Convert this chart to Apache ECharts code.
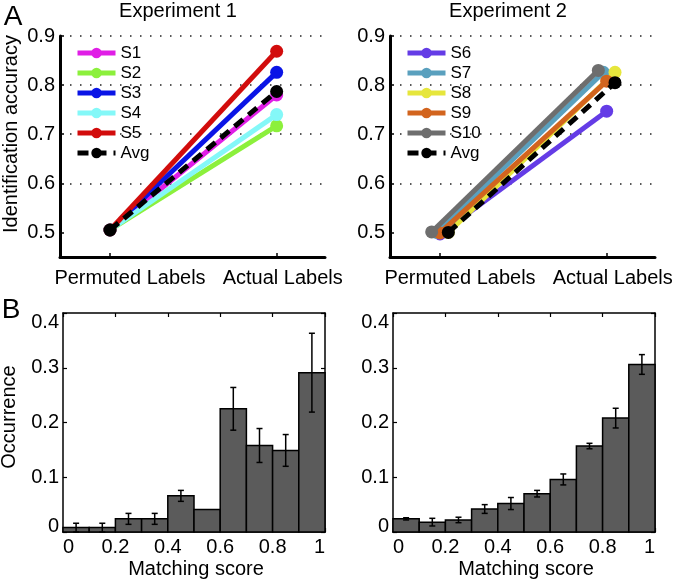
<!DOCTYPE html>
<html><head><meta charset="utf-8">
<script src="https://cdn.jsdelivr.net/npm/echarts@6/dist/echarts.min.js"></script>
<style>html,body{margin:0;padding:0;background:#fff}#c{width:677px;height:584px}</style>
</head><body><div id="c"></div><script>
// ---------- data ----------
const conditions = ['Permuted Labels', 'Actual Labels'];
const conditionX = [1, 2];
const exp1Names = ['S1', 'S2', 'S3', 'S4', 'S5', 'Avg'];
const exp1Permuted = [0.505, 0.505, 0.505, 0.505, 0.505, 0.505];
const exp1Actual = [0.780, 0.717, 0.826, 0.740, 0.869, 0.787];
const exp1Jitter = [0, 0, 0, 0, 0, 0];
const exp2Names = ['S6', 'S7', 'S8', 'S9', 'S10', 'Avg'];
const exp2Permuted = [0.497, 0.500, 0.500, 0.499, 0.501, 0.500];
const exp2Actual = [0.747, 0.826, 0.826, 0.808, 0.830, 0.805];
const exp2Jitter = [0, -0.02, 0.05, 0, -0.05, 0.05];
const accuracyTicks = [0.5, 0.6, 0.7, 0.8, 0.9];
const binEdges = [0, 0.1, 0.2, 0.3, 0.4, 0.5, 0.6, 0.7, 0.8, 0.9, 1.0];
const exp1Occurrence = [0.008, 0.008, 0.024, 0.024, 0.066, 0.041, 0.225, 0.158, 0.149, 0.291];
const exp1Error = [0.008, 0.008, 0.010, 0.010, 0.010, 0, 0.039, 0.031, 0.029, 0.072];
const exp2Occurrence = [0.024, 0.018, 0.022, 0.042, 0.052, 0.070, 0.096, 0.157, 0.208, 0.306];
const exp2Error = [0.002, 0.007, 0.005, 0.008, 0.011, 0.006, 0.010, 0.005, 0.018, 0.018];

// ---------- styles ----------
const exp1Colors = ['#e01ee6', '#8cf03c', '#0a14e6', '#84f8f8', '#d20c0c', '#000000'];
const exp2Colors = ['#643ce6', '#5aa0be', '#e6e63c', '#d2641e', '#6e6e6e', '#000000'];
const FONT = '"Liberation Sans", Arial, Helvetica, sans-serif';

const chart = echarts.init(document.getElementById('c'), null, {renderer: 'canvas'});

function lineSeries(names, perm, act, jit, colors, gi) {
  return names.map((n, i) => ({
    type: 'line', name: n, xAxisIndex: gi, yAxisIndex: gi,
    data: [[conditionX[0] + jit[i], perm[i]], [conditionX[1] + jit[i], act[i]]],
    symbol: 'circle', symbolSize: 13, z: 3 + i,
    lineStyle: {width: 5, color: colors[i], type: n === 'Avg' ? [11, 7] : 'solid'},
    itemStyle: {color: colors[i]},
    emphasis: {disabled: true}
  }));
}
function histData(occ, err) {
  return occ.map((v, i) => [binEdges[i], binEdges[i + 1], v, err[i]]);
}
function barItem(params, api) {
  const p0 = api.coord([api.value(0), 0]);
  const p1 = api.coord([api.value(1), api.value(2)]);
  return {type: 'rect', shape: {x: p0[0], y: p1[1], width: p1[0] - p0[0], height: p0[1] - p1[1]},
    style: {fill: '#5b5b5b', stroke: '#000', lineWidth: 1.5}};
}
function errItem(params, api) {
  const e = api.value(3);
  if (!e) return null;
  const xm = (api.value(0) + api.value(1)) / 2, v = api.value(2);
  const t = api.coord([xm, v + e]), b = api.coord([xm, v - e]);
  const w = 3, st = {stroke: '#000', lineWidth: 1.5};
  return {type: 'group', children: [
    {type: 'line', shape: {x1: t[0], y1: t[1], x2: b[0], y2: b[1]}, style: st},
    {type: 'line', shape: {x1: t[0] - w, y1: t[1], x2: t[0] + w, y2: t[1]}, style: st},
    {type: 'line', shape: {x1: b[0] - w, y1: b[1], x2: b[0] + w, y2: b[1]}, style: st}
  ]};
}

const axisTxt = {color: '#000', fontSize: 20, fontFamily: FONT};

function topX(gi) {
  return {gridIndex: gi, type: 'value', min: 0.7, max: 2.29,
    axisLine: {show: true, onZero: false, lineStyle: {color: '#000', width: 3}},
    axisTick: {show: true, inside: true, length: 4, customValues: conditionX, lineStyle: {color: '#000', width: 1.5}},
    axisLabel: Object.assign({show: true, margin: 11, customValues: conditionX,
      formatter: v => v === conditionX[0] ? '{p|' + conditions[0] + '}' : '{a|' + conditions[1] + '}',
      rich: {p: {padding: [0, 0, 0, 40], fontSize: 20, fontFamily: FONT, color: '#000'},
             a: {padding: [0, 0, 0, 12], fontSize: 20, fontFamily: FONT, color: '#000'}}}, axisTxt),
    splitLine: {show: false}};
}
function topY(gi) {
  return {gridIndex: gi, type: 'value', min: 0.45, max: 0.9,
    axisLine: {show: true, onZero: false, lineStyle: {color: '#000', width: 3}},
    axisTick: {show: true, inside: true, length: 4, customValues: accuracyTicks, lineStyle: {color: '#000', width: 1.5}},
    axisLabel: Object.assign({show: true, margin: 5, customValues: accuracyTicks, formatter: v => v.toFixed(1)}, axisTxt),
    splitLine: {show: true, showMinLine: false, lineStyle: {color: '#222', width: 1.5, type: [1.5, 8.5]}}};
}
function botX(gi, pos, labels) {
  return {gridIndex: gi, type: 'value', min: 0, max: 1, interval: 0.2, position: pos,
    axisLine: {show: true, onZero: false, lineStyle: {color: '#000', width: 1.5}},
    axisTick: {show: true, inside: true, length: 4, lineStyle: {color: '#000', width: 1.2}},
    axisLabel: Object.assign({show: labels, margin: 5, alignMinLabel: 'left', alignMaxLabel: 'right'}, axisTxt),
    splitLine: {show: false}};
}
function botY(gi, pos, labels) {
  return {gridIndex: gi, type: 'value', min: 0, max: 0.4, interval: 0.1, position: pos,
    axisLine: {show: true, onZero: false, lineStyle: {color: '#000', width: 1.5}},
    axisTick: {show: true, inside: true, length: 4, lineStyle: {color: '#000', width: 1.2}},
    axisLabel: Object.assign({show: labels, margin: 4,
      formatter: v => v === 0.4 ? '{t|0.4}' : (v === 0 ? '{b|0}' : String(v)),
      rich: {t: {padding: [18, 0, 0, 0], fontSize: 20, fontFamily: FONT, color: '#000'},
             b: {padding: [0, 0, 12, 0], fontSize: 20, fontFamily: FONT, color: '#000'}}}, axisTxt),
    splitLine: {show: false}};
}

const legendBase = {orient: 'vertical', itemWidth: 38, itemHeight: 13, itemGap: 0,
  textStyle: {fontSize: 17, lineHeight: 20, fontFamily: FONT, color: '#000'},
  lineStyle: {width: 5}, selectedMode: false, padding: 0};

function txt(text, x, y, size, rot) {
  return {type: 'text', x: x, y: y, rotation: rot || 0,
    style: {text: text, fill: '#000', font: size + 'px ' + FONT, textAlign: 'center', textVerticalAlign: 'middle'}};
}

const option = {
  animation: false,
  backgroundColor: '#fff',
  grid: [
    {left: 60, right: 352, top: 36, bottom: 327},
    {left: 390, right: 22, top: 36, bottom: 327},
    {left: 63, right: 352, top: 313, bottom: 52},
    {left: 393, right: 22, top: 313, bottom: 52}
  ],
  xAxis: [topX(0), topX(1), botX(2, 'bottom', true), botX(3, 'bottom', true), botX(2, 'top', false), botX(3, 'top', false)],
  yAxis: [topY(0), topY(1), botY(2, 'left', true), botY(3, 'left', true), botY(2, 'right', false), botY(3, 'right', false)],
  legend: [
    Object.assign({data: exp1Names, left: 75, top: 43}, legendBase),
    Object.assign({data: exp2Names, left: 405, top: 43}, legendBase)
  ],
  graphic: [
    txt('A', 13, 17, 28), txt('B', 11, 310, 28),
    txt('Experiment 1', 178, 11, 20), txt('Experiment 2', 508, 11, 20),
    txt('Identification accuracy', 11, 134, 20, Math.PI / 2),
    txt('Occurrence', 9, 417, 20, Math.PI / 2),
    txt('Matching score', 196, 569, 20), txt('Matching score', 526, 569, 20)
  ],
  series: [].concat(
    lineSeries(exp1Names, exp1Permuted, exp1Actual, exp1Jitter, exp1Colors, 0),
    lineSeries(exp2Names, exp2Permuted, exp2Actual, exp2Jitter, exp2Colors, 1),
    [
      {type: 'custom', xAxisIndex: 2, yAxisIndex: 2, renderItem: barItem, data: histData(exp1Occurrence, exp1Error), z: 2, silent: true},
      {type: 'custom', xAxisIndex: 2, yAxisIndex: 2, renderItem: errItem, data: histData(exp1Occurrence, exp1Error), z: 4, silent: true},
      {type: 'custom', xAxisIndex: 3, yAxisIndex: 3, renderItem: barItem, data: histData(exp2Occurrence, exp2Error), z: 2, silent: true},
      {type: 'custom', xAxisIndex: 3, yAxisIndex: 3, renderItem: errItem, data: histData(exp2Occurrence, exp2Error), z: 4, silent: true}
    ]
  )
};
chart.setOption(option);
</script></body></html>
